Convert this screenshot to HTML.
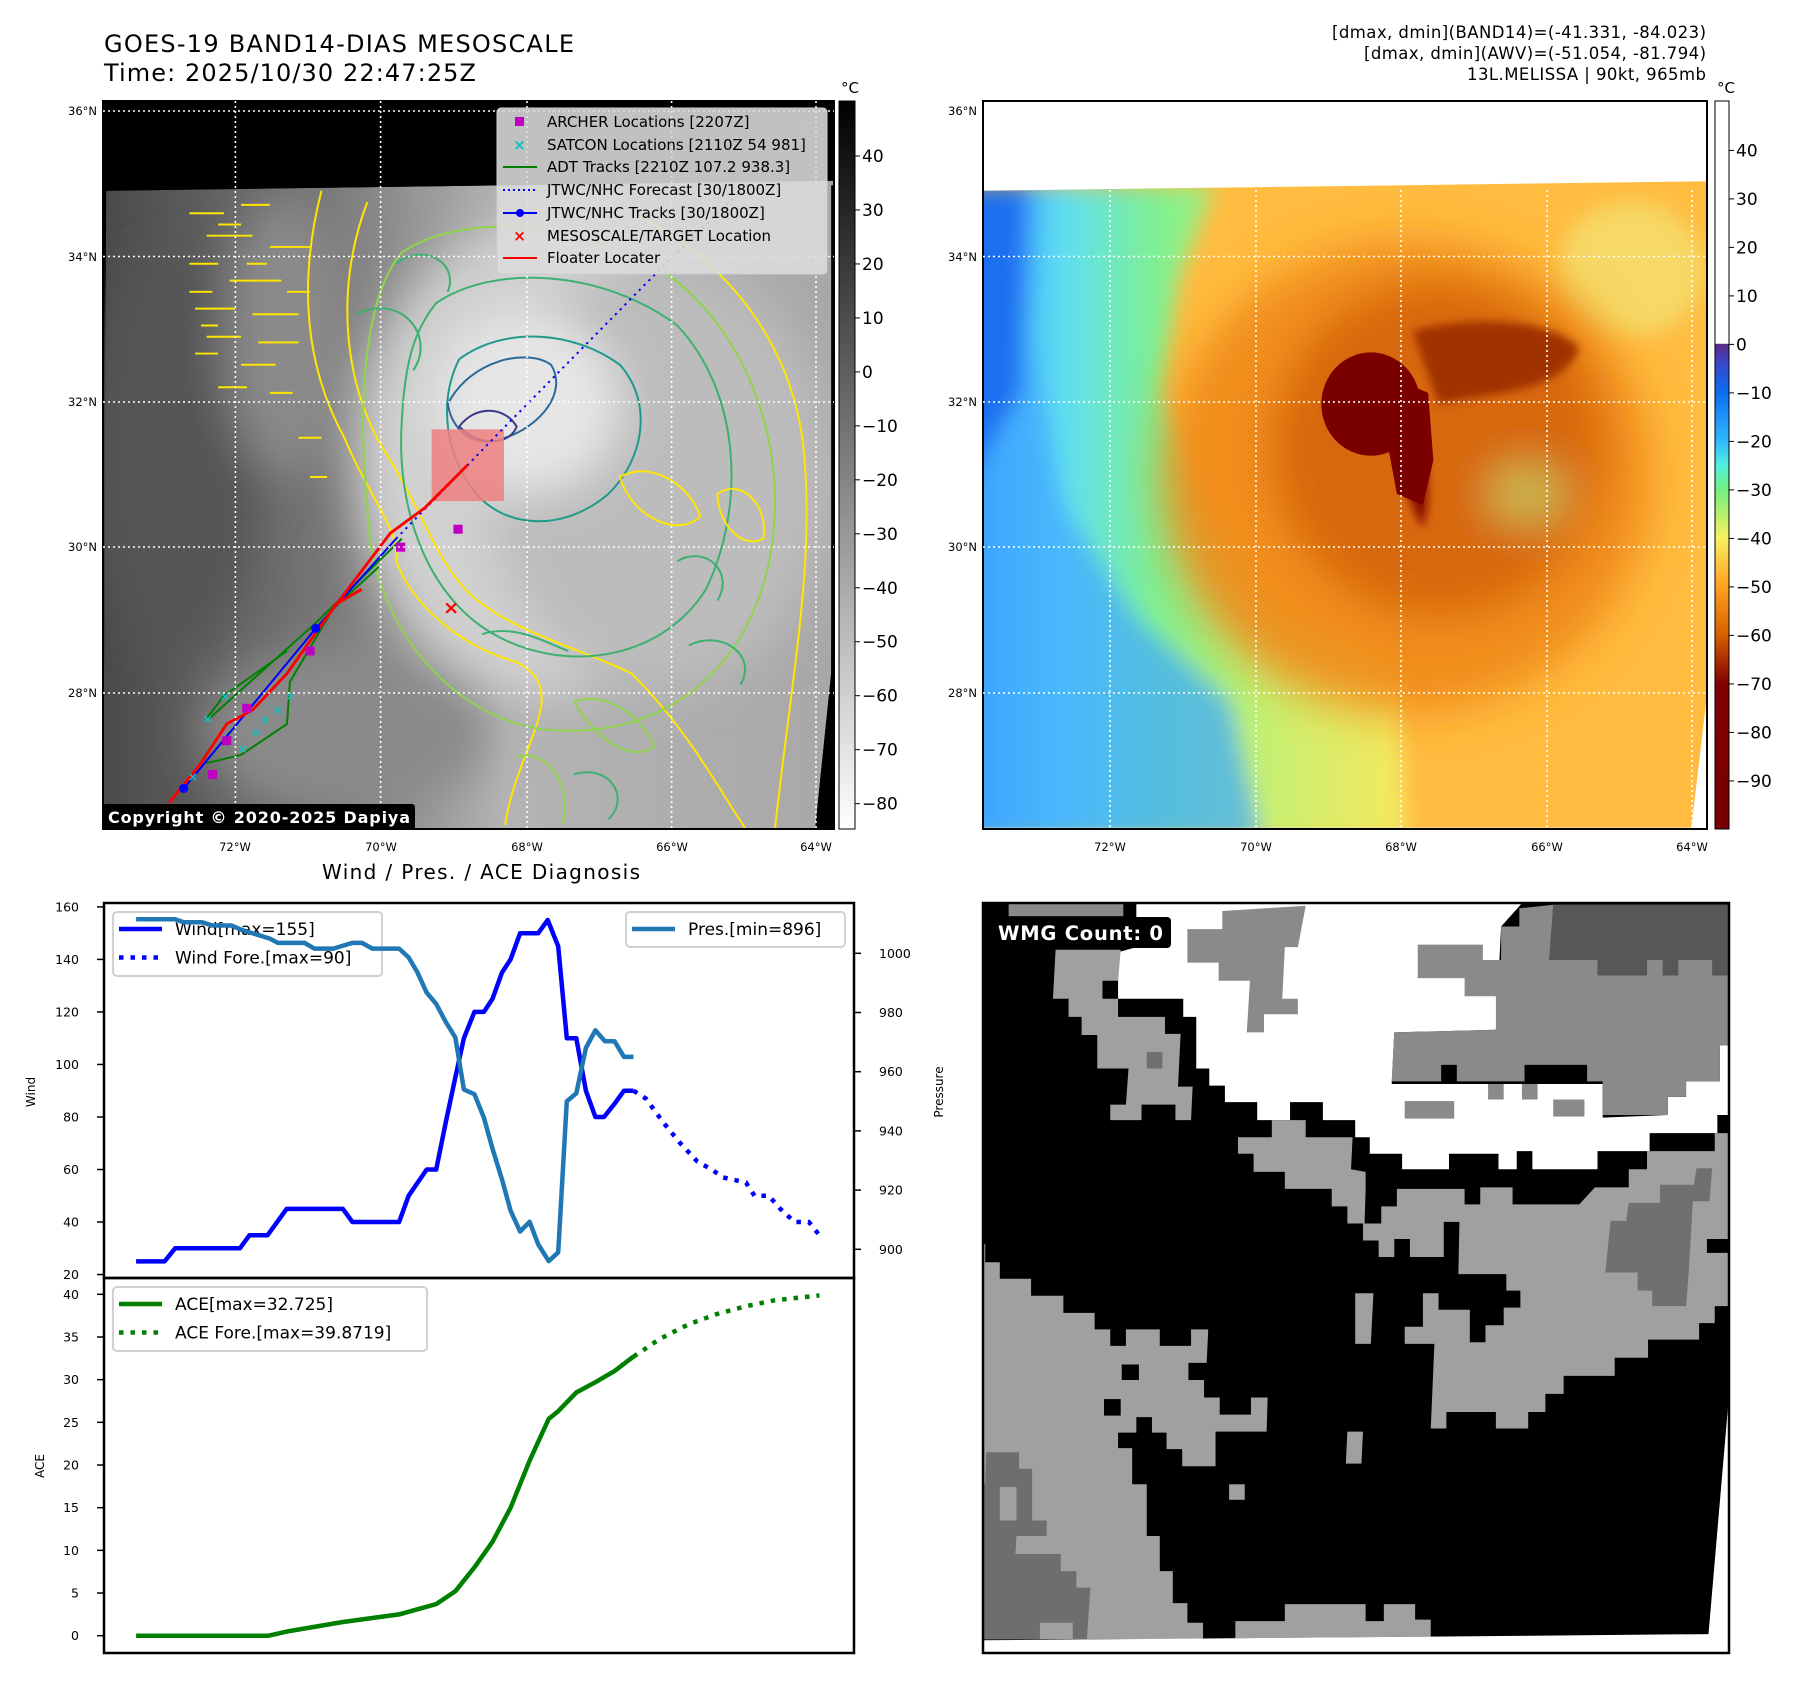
<!DOCTYPE html>
<html><head><meta charset="utf-8"><title>GOES-19 BAND14 Mesoscale</title>
<style>
html,body{margin:0;padding:0;background:#fff;}
svg{display:block;font-family:"DejaVu Sans","Liberation Sans",sans-serif;}
</style></head>
<body>
<svg id="root" width="1797" height="1690" viewBox="0 0 1797 1690" xmlns="http://www.w3.org/2000/svg">
<defs>
  <filter id="blur20" x="-30%" y="-30%" width="160%" height="160%"><feGaussianBlur stdDeviation="20"/></filter>
  <filter id="blur40" x="-30%" y="-30%" width="160%" height="160%"><feGaussianBlur stdDeviation="40"/></filter>
  <filter id="blur8" x="-30%" y="-30%" width="160%" height="160%"><feGaussianBlur stdDeviation="8"/></filter>
  <clipPath id="clip1"><rect x="103" y="101" width="731" height="728"/></clipPath>
  <clipPath id="clip2"><rect x="983" y="101" width="724" height="728"/></clipPath>
  <clipPath id="clipW"><rect x="983" y="903" width="746" height="750"/></clipPath>
  <linearGradient id="gray1" x1="0" x2="1" y1="0" y2="0">
    <stop offset="0" stop-color="#4a4a4a"/><stop offset="0.3" stop-color="#767676"/><stop offset="0.55" stop-color="#b4b4b4"/><stop offset="1" stop-color="#a8a8a8"/>
  </linearGradient>
  <linearGradient id="cb1" x1="0" x2="0" y1="0" y2="1">
    <stop offset="0" stop-color="#000"/><stop offset="1" stop-color="#fff"/>
  </linearGradient>
  <linearGradient id="cb2" x1="0" x2="0" y1="0" y2="1">
    <stop offset="0" stop-color="#fff"/><stop offset="0.333" stop-color="#fff"/>
    <stop offset="0.334" stop-color="#5a2a86"/><stop offset="0.36" stop-color="#3a48c8"/>
    <stop offset="0.40" stop-color="#0a6ef0"/><stop offset="0.467" stop-color="#30b8ff"/>
    <stop offset="0.50" stop-color="#50f0e0"/><stop offset="0.533" stop-color="#70f080"/>
    <stop offset="0.60" stop-color="#f8f060"/><stop offset="0.667" stop-color="#ffa020"/>
    <stop offset="0.733" stop-color="#d86000"/><stop offset="0.80" stop-color="#800000"/><stop offset="1" stop-color="#780000"/>
  </linearGradient>
  <linearGradient id="cold2" x1="0" x2="1" y1="0" y2="0">
    <stop offset="0" stop-color="#1a78f0"/><stop offset="0.1" stop-color="#40b0ff"/><stop offset="0.25" stop-color="#60e0f0"/>
    <stop offset="0.45" stop-color="#80f090"/><stop offset="0.7" stop-color="#c8f070"/><stop offset="1" stop-color="#f8e860"/>
  </linearGradient>
</defs>

<!-- Titles -->
<text x="104" y="52" font-size="24" textLength="470">GOES-19 BAND14-DIAS MESOSCALE</text>
<text x="104" y="81" font-size="24" textLength="372">Time: 2025/10/30 22:47:25Z</text>
<g font-size="16.5" text-anchor="end">
  <text x="1706" y="38" textLength="374">[dmax, dmin](BAND14)=(-41.331, -84.023)</text>
  <text x="1706" y="59" textLength="342">[dmax, dmin](AWV)=(-51.054, -81.794)</text>
  <text x="1706" y="80" textLength="239">13L.MELISSA | 90kt, 965mb</text>
</g>

<!-- MAP 1 -->
<g clip-path="url(#clip1)">
  <rect x="103" y="101" width="731" height="728" fill="#000"/>
  <g transform="scale(0.574,0.5612)">
    <polygon points="185,340 1452,322 1448,1200 1420,1478 180,1478" fill="url(#gray1)"/>
    <g filter="url(#blur40)">
      <ellipse cx="950" cy="820" rx="330" ry="420" fill="#d0d0d0"/>
      <ellipse cx="1150" cy="850" rx="300" ry="380" fill="#bcbcbc"/>
      <ellipse cx="920" cy="720" rx="160" ry="160" fill="#e6e6e6"/>
      <ellipse cx="600" cy="1300" rx="250" ry="150" fill="#8a8a8a"/>
      <ellipse cx="300" cy="800" rx="150" ry="350" fill="#555"/>
      <ellipse cx="500" cy="600" rx="110" ry="250" fill="#8a8a8a"/>
    </g>
    <polygon points="185,340 1452,322 1452,180 180,180" fill="#000"/>
    <polygon points="1448,330 1455,330 1455,1480 1420,1478 1448,1200" fill="#000"/>
    <g fill="none" stroke-width="3.5" stroke-linejoin="round">
      <path d="M560,340 C520,500 530,650 600,780 C640,880 700,950 690,1000 C720,1080 800,1150 900,1180 C1000,1230 900,1330 880,1470" stroke="#ffe600"/>
      <path d="M640,360 C580,520 600,700 680,820 C740,920 760,1000 820,1060 C900,1130 1000,1150 1100,1200 C1200,1300 1260,1420 1300,1478" stroke="#ffe600"/>
      <path d="M1100,380 C1250,450 1380,600 1400,800 C1420,1000 1380,1200 1350,1478" stroke="#ffe600"/>
      <path d="M700,450 C800,380 1000,390 1150,480 C1300,580 1380,800 1340,1000 C1300,1200 1150,1320 950,1300 C780,1280 640,1100 640,900 C620,700 640,520 700,450Z" stroke="#8fd44a"/>
      <path d="M760,540 C860,470 1050,480 1180,580 C1290,700 1300,900 1230,1050 C1150,1180 980,1200 860,1130 C740,1060 690,900 700,750 C705,650 720,590 760,540Z" stroke="#3cb070"/>
      <path d="M800,640 C880,580 1000,590 1080,650 C1140,720 1120,820 1060,880 C980,950 880,940 830,880 C780,820 760,720 800,640Z" stroke="#1f9a8a"/>
      <path d="M780,720 C820,640 920,620 960,650 C990,700 940,760 880,780 C840,800 790,780 780,720Z" stroke="#2a6a9a"/>
      <path d="M800,760 C830,720 880,725 900,760 C890,790 840,800 800,760Z" stroke="#3a3a8a"/>
      <path d="M1080,850 C1130,820 1200,860 1220,920 C1180,960 1100,920 1080,850Z" stroke="#ffe600"/>
      <path d="M1250,880 C1290,850 1340,900 1330,960 C1290,980 1250,930 1250,880Z" stroke="#ffe600"/>
      <path d="M840,1130 C900,1110 960,1150 990,1160" stroke="#3cb070"/>
      <path d="M1000,1250 C1060,1230 1120,1280 1140,1330 C1100,1360 1040,1320 1000,1250Z" stroke="#8fd44a"/>
      <path d="M900,1350 C950,1330 1000,1400 980,1470" stroke="#8fd44a"/>
      <path d="M620,560 C700,520 760,600 720,660 M690,470 C740,430 800,470 780,520 M1180,1000 C1230,970 1280,1020 1250,1070 M1200,1150 C1260,1120 1320,1170 1290,1220 M1000,1380 C1060,1360 1100,1420 1060,1460" stroke="#3cb070"/>
    </g>
    <g fill="none" stroke="#ffe600" stroke-width="3.5">
      <path d="M330,380 h60 M420,365 h50 M360,420 h80 M470,440 h70 M330,470 h50 M400,500 h90 M340,550 h70 M440,560 h80 M360,600 h60 M450,610 h70 M340,630 h40 M420,650 h60 M330,520 h40 M500,520 h40 M380,690 h50"/>
      <path d="M380,400 h40 M430,470 h35 M350,580 h30 M470,700 h40 M520,780 h40 M540,850 h30"/>
    </g>
    <rect x="752" y="765" width="126" height="128" fill="#f08080" opacity="0.85"/>
    <g fill="none" stroke-width="3.5">
      <path d="M365,1280 L550,1110 L640,1020 L700,960" stroke="#008000"/>
      <path d="M360,1360 L420,1345 L500,1290 L505,1215 L580,1085 L660,1010" stroke="#008000"/>
      <path d="M360,1280 L390,1240 L500,1160" stroke="#008000"/>
      <path d="M320,1405 L550,1120 L690,960" stroke="#0000ff"/>
      <path d="M690,960 L880,760 L1140,490 L1440,190" stroke="#0000ff" stroke-dasharray="4,8"/>
      <path d="M295,1430 L350,1360 L395,1290 L440,1265 L500,1200 L580,1085 L680,950 L740,905 L815,828" stroke="#ff0000" stroke-width="5"/>
      <path d="M580,1080 L630,1050" stroke="#ff0000" stroke-width="5"/>
    </g>
    <circle cx="550" cy="1120" r="8" fill="#0000ff"/><circle cx="320" cy="1405" r="8" fill="#0000ff"/>
    <g fill="#c000c0">
      <rect x="690" y="967" width="16" height="16"/><rect x="790" y="935" width="16" height="16"/><rect x="532" y="1152" width="16" height="16"/>
      <rect x="422" y="1254" width="16" height="16"/><rect x="387" y="1312" width="16" height="16"/><rect x="362" y="1372" width="16" height="16"/>
    </g>
    <g fill="#10c0c0" font-size="22" text-anchor="middle" font-weight="bold">
      <text x="362" y="1288">×</text><text x="392" y="1248">×</text><text x="422" y="1342">×</text><text x="446" y="1312">×</text>
      <text x="484" y="1272">×</text><text x="506" y="1248">×</text><text x="336" y="1392">×</text><text x="462" y="1290">×</text>
    </g>
    <text x="786" y="1094" fill="#ff0000" font-size="34" font-weight="bold" text-anchor="middle">×</text>
  </g>
</g>
<rect x="103" y="101" width="731" height="728" fill="none" stroke="#000" stroke-width="2"/>
<g stroke="#fff" stroke-width="1.6" stroke-dasharray="2,3">
  <line x1="103" x2="834" y1="111" y2="111"/><line x1="103" x2="834" y1="256.5" y2="256.5"/><line x1="103" x2="834" y1="402" y2="402"/><line x1="103" x2="834" y1="547" y2="547"/><line x1="103" x2="834" y1="693" y2="693"/>
  <line y1="101" y2="829" x1="235.4" x2="235.4"/><line y1="101" y2="829" x1="380.6" x2="380.6"/><line y1="101" y2="829" x1="527" x2="527"/><line y1="101" y2="829" x1="671.6" x2="671.6"/><line y1="101" y2="829" x1="816" x2="816"/>
</g>
<g font-size="11.5" text-anchor="end">
  <text x="97" y="115">36°N</text><text x="97" y="261">34°N</text><text x="97" y="406">32°N</text><text x="97" y="551">30°N</text><text x="97" y="697">28°N</text>
</g>
<g font-size="11.5" text-anchor="middle">
  <text x="235" y="851">72°W</text><text x="381" y="851">70°W</text><text x="527" y="851">68°W</text><text x="672" y="851">66°W</text><text x="816" y="851">64°W</text>
</g>
<g>
  <rect x="497" y="108" width="330" height="166" rx="4" fill="#dcdcdc" fill-opacity="0.88" stroke="#cfcfcf"/>
  <g font-size="15">
    <rect x="515" y="117" width="9" height="9" fill="#c000c0"/><text x="547" y="127">ARCHER Locations [2207Z]</text>
    <text x="519.5" y="150" fill="#10c0c0" font-weight="bold" text-anchor="middle">×</text><text x="547" y="150">SATCON Locations [2110Z 54 981]</text>
    <line x1="503" x2="537" y1="167" y2="167" stroke="#008000" stroke-width="2"/><text x="547" y="172">ADT Tracks [2210Z 107.2 938.3]</text>
    <line x1="503" x2="537" y1="190" y2="190" stroke="#0000ff" stroke-width="2" stroke-dasharray="2,3"/><text x="547" y="195">JTWC/NHC Forecast [30/1800Z]</text>
    <line x1="503" x2="537" y1="213" y2="213" stroke="#0000ff" stroke-width="2"/><circle cx="520" cy="213" r="4" fill="#0000ff"/><text x="547" y="218">JTWC/NHC Tracks [30/1800Z]</text>
    <text x="519.5" y="241" fill="#ff0000" font-weight="bold" text-anchor="middle">×</text><text x="547" y="241">MESOSCALE/TARGET Location</text>
    <line x1="503" x2="537" y1="258" y2="258" stroke="#ff0000" stroke-width="2"/><text x="547" y="263">Floater Locater</text>
  </g>
</g>
<g>
  <rect x="103" y="804" width="312" height="26" rx="3" fill="#000"/>
  <text x="108" y="823" font-size="16" font-weight="bold" fill="#fff" textLength="302">Copyright © 2020-2025 Dapiya</text>
</g>
<g>
  <rect x="839" y="101" width="16" height="728" fill="url(#cb1)" stroke="#000" stroke-width="1"/>
  <text x="850" y="93" font-size="15" text-anchor="middle">°C</text>
  <g id="cb1ticks" font-size="17"></g>
</g>

<!-- MAP 2 -->
<g clip-path="url(#clip2)">
  <rect x="983" y="101" width="724" height="728" fill="#fff"/>
  <g transform="translate(980,0) scale(0.5211,0.5612)">
    <clipPath id="dat2"><polygon points="0,340 1395,323 1395,1240 1365,1475 0,1475"/></clipPath>
    <g clip-path="url(#dat2)">
      <rect x="0" y="300" width="1400" height="1200" fill="#ffbc40"/>
      <g filter="url(#blur20)">
        <polygon points="-50,330 450,330 380,500 350,700 430,900 560,1080 800,1180 820,1500 -50,1500" fill="url(#cold2)"/>
        <polygon points="-50,330 120,330 100,600 160,900 300,1100 480,1250 540,1500 -50,1500" fill="#40a8ff" opacity="0.7"/>
        <polygon points="-50,330 90,330 80,700 -50,900" fill="#1a70f0"/>
        <ellipse cx="1250" cy="480" rx="140" ry="120" fill="#f4e070" opacity="0.8"/>
      </g>
      <g filter="url(#blur40)">
        <ellipse cx="820" cy="850" rx="470" ry="420" fill="#f08818" opacity="0.9"/>
        <ellipse cx="880" cy="800" rx="320" ry="300" fill="#d86808"/>
        <ellipse cx="1050" cy="880" rx="80" ry="50" fill="#c0e070" opacity="0.7"/>
      </g>
      <g filter="url(#blur8)">
        <path d="M830,590 C950,560 1100,570 1150,620 C1120,700 980,700 880,720 Z" fill="#a03000"/>
        <path d="M800,700 C860,760 870,880 850,940 C820,900 800,800 780,760Z" fill="#8a1000"/>
      </g>
      <ellipse cx="750" cy="720" rx="95" ry="92" fill="#7a0000"/>
      <path d="M760,660 L860,700 L870,820 L850,900 L800,880 L780,780Z" fill="#7a0000"/>
    </g>
  </g>
</g>
<rect x="983" y="101" width="724" height="728" fill="none" stroke="#000" stroke-width="2"/>
<g stroke="#fff" stroke-width="1.6" stroke-dasharray="2,3">
  <line x1="983" x2="1707" y1="256.5" y2="256.5"/><line x1="983" x2="1707" y1="402" y2="402"/><line x1="983" x2="1707" y1="547" y2="547"/><line x1="983" x2="1707" y1="693" y2="693"/>
  <line y1="190" y2="829" x1="1110" x2="1110"/><line y1="190" y2="829" x1="1256" x2="1256"/><line y1="190" y2="829" x1="1401" x2="1401"/><line y1="190" y2="829" x1="1547" x2="1547"/><line y1="190" y2="829" x1="1692" x2="1692"/>
</g>
<g font-size="11.5" text-anchor="end">
  <text x="977" y="115">36°N</text><text x="977" y="261">34°N</text><text x="977" y="406">32°N</text><text x="977" y="551">30°N</text><text x="977" y="697">28°N</text>
</g>
<g font-size="11.5" text-anchor="middle">
  <text x="1110" y="851">72°W</text><text x="1256" y="851">70°W</text><text x="1401" y="851">68°W</text><text x="1547" y="851">66°W</text><text x="1692" y="851">64°W</text>
</g>
<g>
  <rect x="1715" y="101" width="14" height="728" fill="url(#cb2)" stroke="#000" stroke-width="1"/>
  <text x="1726" y="93" font-size="15" text-anchor="middle">°C</text>
  <g id="cb2ticks" font-size="17"></g>
</g>

<!-- CHART -->
<text x="481" y="879" font-size="20" text-anchor="middle" textLength="318">Wind / Pres. / ACE Diagnosis</text>
<g id="chart"></g>

<!-- WMG -->
<g clip-path="url(#clipW)">
  <rect x="983" y="903" width="746" height="750" fill="#000"/>
  <g transform="translate(980,880) scale(0.5211,0.5165)">
    <polygon fill="#fff" points="265,140 300,130 300,45 1040,45 1000,90 990,290 795,295 790,395 1195,395 1195,460 1320,455 1320,420 1355,420 1355,390 1420,390 1420,320 1438,320 1438,455 1415,455 1415,490 1285,490 1285,525 1185,525 1185,560 1060,560 1060,525 1030,525 1030,560 995,560 995,530 900,530 900,560 810,560 810,530 748,530 748,498 720,498 720,465 658,465 658,430 595,430 595,465 532,465 532,430 470,430 470,398 440,398 440,365 415,365 415,265 390,265 390,230 265,230 265,195"/>
    <rect x="55" y="45" width="220" height="25" fill="#8a8a8a"/>
    <polygon fill="#8a8a8a" points="465,60 625,50 610,130 585,130 580,230 610,230 610,260 545,260 545,295 512,295 518,195 458,195 458,160 398,160 398,95 465,95"/>
    <polygon fill="#8a8a8a" points="840,125 965,125 965,155 1000,155 1000,90 1035,90 1035,55 1100,48 1438,48 1438,320 1420,320 1420,390 1355,390 1355,420 1320,420 1320,455 1195,455 1195,390 1165,390 1165,358 1045,358 1045,390 915,390 915,358 885,358 885,390 790,390 795,295 990,290 990,225 930,225 930,190 840,190"/>
    <polygon fill="#575757" points="1100,48 1438,48 1438,185 1405,185 1405,155 1340,155 1340,185 1310,185 1310,155 1280,155 1280,185 1185,185 1185,155 1092,155"/>
    <g fill="#8a8a8a"><rect x="815" y="428" width="95" height="34"/><rect x="1100" y="425" width="60" height="33"/><rect x="975" y="395" width="30" height="30"/><rect x="1040" y="395" width="30" height="30"/></g>
    <polygon fill="#a0a0a0" points="145,135 270,135 265,195 235,195 235,230 265,230 265,265 355,265 355,298 385,298 380,400 408,400 405,465 375,465 375,435 310,435 310,465 250,465 250,435 280,435 285,365 225,365 225,300 195,300 195,265 170,265 170,230 140,230"/>
    <rect x="320" y="333" width="30" height="32" fill="#707070"/>
    <polygon fill="#a0a0a0" points="495,498 560,498 560,465 625,465 625,498 715,498 712,560 740,565 740,600 738,665 705,665 705,632 675,632 675,598 585,598 585,565 525,565 525,530 495,530"/>
    <polygon fill="#a0a0a0" points="770,632 800,632 800,598 930,598 930,628 960,628 960,595 1022,595 1022,628 1150,628 1180,595 1245,595 1245,560 1280,560 1280,525 1410,525 1410,490 1438,490 1438,695 1395,695 1395,722 1438,722 1438,825 1410,825 1410,858 1380,858 1380,890 1282,890 1282,925 1218,925 1218,960 1120,960 1120,995 1085,995 1085,1030 1052,1030 1052,1062 990,1062 990,1030 895,1030 895,1062 865,1062 872,898 815,898 815,865 850,865 850,800 880,800 880,832 940,832 940,895 970,895 970,862 1005,862 1005,828 1037,828 1037,795 1010,795 1010,763 918,763 920,662 890,662 890,730 825,730 825,695 795,695 795,730 765,730 765,698 735,698 735,665 770,665"/>
    <polygon fill="#707070" points="1210,660 1240,660 1245,625 1305,625 1305,590 1370,590 1375,558 1405,558 1400,622 1368,622 1360,760 1355,825 1290,825 1290,795 1262,795 1262,760 1200,760"/>
    <g fill="#a0a0a0"><polygon points="720,800 755,800 750,898 720,898"/><polygon points="705,1068 735,1068 732,1130 702,1130"/><rect x="478" y="1170" width="30" height="30"/></g>
    <polygon fill="#a0a0a0" points="0,705 10,705 10,740 38,740 38,772 98,772 98,805 160,805 160,838 220,838 220,870 250,870 250,902 280,902 280,870 345,870 345,902 405,902 405,870 438,870 435,935 400,935 400,968 430,968 430,1002 460,1002 460,1035 520,1035 520,1002 552,1002 550,1068 452,1068 452,1135 388,1135 388,1102 358,1102 358,1070 330,1070 330,1040 300,1040 300,1070 265,1070 265,1100 292,1100 292,1170 320,1170 320,1270 345,1270 345,1338 370,1338 370,1400 398,1400 398,1438 428,1438 428,1470 0,1470"/>
    <g fill="#000"><rect x="272" y="938" width="33" height="30"/><rect x="238" y="1005" width="32" height="32"/></g>
    <polygon fill="#6e6e6e" points="0,1170 10,1170 12,1108 75,1108 75,1140 100,1140 100,1240 128,1240 128,1270 70,1270 68,1305 155,1305 155,1338 185,1338 185,1370 212,1370 205,1470 178,1470 178,1438 115,1438 115,1470 0,1470"/>
    <rect x="38" y="1175" width="32" height="65" fill="#a0a0a0"/>
    <polygon fill="#a0a0a0" points="490,1435 585,1435 585,1402 740,1402 740,1435 775,1435 775,1402 835,1402 835,1432 865,1432 865,1465 490,1468"/>
    <polygon fill="#fff" points="0,1472 490,1468 865,1465 1398,1460 1438,990 1440,1500 0,1500"/>
  </g>
</g>
<rect x="983" y="903" width="746" height="750" fill="none" stroke="#000" stroke-width="2.5"/>
<g>
  <rect x="992" y="917" width="179" height="31" rx="4" fill="#000"/>
  <text x="998" y="940" font-size="19.5" font-weight="bold" fill="#fff" textLength="165">WMG Count: 0</text>
</g>

<script>
// ---- chart data ----
var windT = [0,3,4.1,10.9,11.9,13.8,15.8,21.7,22.7,27.6,28.6,30.5,31.5,32.5,33.5,34.4,35.5,36.5,37.4,38.4,39.3,40.3,42.2,43.2,44.3,45.2,46.2,47.2,48.2,49.1,50.2,51.2,52.2];
var windV = [25,25,30,30,35,35,45,45,40,40,50,60,60,78,95,110,120,120,125,135,140,150,150,155,145,110,110,90,80,80,85,90,90];
var windFT = [52.2,53.5,55.3,57.1,58.9,60.4,61.6,64,64.9,66.4,67.6,69.1,70.6,71.7];
var windFV = [90,87,78,70,63,60,57,55,50,50,45,40,40,35];
var presT = [0,4.1,5,6.9,8,10,11,14,14.9,17.7,18.7,20.7,22.7,23.7,24.8,27.6,28.6,29.5,30.5,31.5,32.5,33.5,34.4,35.5,36.5,37.4,38.4,39.3,40.3,41.3,42.2,43.3,44.3,45.2,46.2,47.2,48.2,49.2,50.2,51.2,52.2];
var presV = [1011.5,1011.5,1010.5,1010.5,1009.4,1009.4,1008,1005,1003.5,1003.5,1001.6,1001.6,1003.5,1003.5,1001.6,1001.6,998.6,993.7,986.7,982.9,976.8,971.6,954,952.4,944.5,934,923.6,913,906,909.3,901.7,896,899,950,952.7,968,974,970.3,970.3,965,965];
var aceT = [0,13.9,15.9,21.7,27.6,31.5,33.5,35.5,37.4,39.3,41.3,43.3,44.3,46.2,48.2,50.2,52.2];
var aceV = [0,0,0.5,1.6,2.5,3.7,5.2,8,11,15,20.5,25.4,26.3,28.5,29.7,31,32.7];
var aceFT = [52.2,55,58,61,64,67,71.7];
var aceFV = [32.7,34.8,36.5,37.7,38.6,39.3,39.87];
var windTicks = [20,40,60,80,100,120,140,160];
var presTicks = [900,920,940,960,980,1000];
var aceTicks = [0,5,10,15,20,25,30,35,40];
var cb1Ticks = [40,30,20,10,0,-10,-20,-30,-40,-50,-60,-70,-80];
var cb2Ticks = [40,30,20,10,0,-10,-20,-30,-40,-50,-60,-70,-80,-90];

var NS = "http://www.w3.org/2000/svg";
function xT(t){ return 136.05 + 9.53 * t; }
function yW(v){ return 906.9 + (160 - v) * 2.626; }
function yP(p){ return 953.3 + (1000 - p) * 2.96; }
function yA(a){ return 1635.7 - a * 8.535; }
function yCb1(v){ return 156 + (40 - v) * 5.397; }
function yCb2(v){ return 150.4 + (40 - v) * 4.85; }
function mk(tag, attrs, parent){
  var e = document.createElementNS(NS, tag);
  for (var k in attrs) e.setAttribute(k, attrs[k]);
  parent.appendChild(e);
  return e;
}
function fmt(v){ return v < 0 ? "\u2212" + Math.abs(v) : String(v); }
function pts(ts, vs, fy){ var s = []; for (var i = 0; i < ts.length; i++) s.push(xT(ts[i]).toFixed(1) + "," + fy(vs[i]).toFixed(1)); return s.join(" "); }

var chart = document.getElementById("chart");

var cbg1 = document.getElementById("cb1ticks");
cb1Ticks.forEach(function(v){
  var y = yCb1(v);
  var tk = mk("line", {x1:855, x2:860, y1:y, y2:y, stroke:"#000", "stroke-width":1}, cbg1);
  
  
  var tx = mk("text", {x:862, y:y + 6}, cbg1);
  
  
  tx.textContent = fmt(v);
});
var cbg2 = document.getElementById("cb2ticks");
cb2Ticks.forEach(function(v){
  var y = yCb2(v);
  var tk = mk("line", {x1:1729, x2:1734, y1:y, y2:y, stroke:"#000", "stroke-width":1}, cbg2);
  
  
  var tx = mk("text", {x:1736, y:y + 6}, cbg2);
  
  
  tx.textContent = fmt(v);
});

var f1 = mk("rect", {x:104, y:903, width:750, height:375, fill:"none", stroke:"#000", "stroke-width":2.5}, chart);


var f2 = mk("rect", {x:104, y:1278, width:750, height:375, fill:"none", stroke:"#000", "stroke-width":2.5}, chart);



windTicks.forEach(function(v){
  var y = yW(v);
  var l = mk("line", {x1:97, x2:104, y1:y, y2:y, stroke:"#000", "stroke-width":1.5}, chart);
  
  
  var t = mk("text", {x:79, y:y + 4.5, "font-size":12.5, "text-anchor":"end"}, chart);
  
  
  t.textContent = v;
});
presTicks.forEach(function(v){
  var y = yP(v);
  var l = mk("line", {x1:854, x2:861, y1:y, y2:y, stroke:"#000", "stroke-width":1.5}, chart);
  
  
  var t = mk("text", {x:879, y:y + 4.5, "font-size":12.5}, chart);
  
  
  t.textContent = v;
});
aceTicks.forEach(function(v){
  var y = yA(v);
  var l = mk("line", {x1:97, x2:104, y1:y, y2:y, stroke:"#000", "stroke-width":1.5}, chart);
  
  
  var t = mk("text", {x:79, y:y + 4.5, "font-size":12.5, "text-anchor":"end"}, chart);
  
  
  t.textContent = v;
});
var yl1 = mk("text", {x:0, y:0, "font-size":12, "text-anchor":"middle", transform:"translate(35,1092) rotate(-90)"}, chart);


yl1.textContent = "Wind";
var yl2 = mk("text", {x:0, y:0, "font-size":12, "text-anchor":"middle", transform:"translate(943,1092) rotate(-90)"}, chart);


yl2.textContent = "Pressure";
var yl3 = mk("text", {x:0, y:0, "font-size":12, "text-anchor":"middle", transform:"translate(44,1466) rotate(-90)"}, chart);


yl3.textContent = "ACE";

var lw = mk("polyline", {points:pts(windT, windV, yW), fill:"none", stroke:"#0000ff", "stroke-width":4.5, "stroke-linejoin":"round"}, chart);


var lwf = mk("polyline", {points:pts(windFT, windFV, yW), fill:"none", stroke:"#0000ff", "stroke-width":4.5, "stroke-dasharray":"4.5,7"}, chart);


var lp = mk("polyline", {points:pts(presT, presV, yP), fill:"none", stroke:"#1f77b4", "stroke-width":4.5, "stroke-linejoin":"round"}, chart);


var la = mk("polyline", {points:pts(aceT, aceV, yA), fill:"none", stroke:"#008000", "stroke-width":4.5, "stroke-linejoin":"round"}, chart);


var laf = mk("polyline", {points:pts(aceFT, aceFV, yA), fill:"none", stroke:"#008000", "stroke-width":4.5, "stroke-dasharray":"4.5,7"}, chart);



function legend(name, x, y, w, h, items){
  var g = mk("g", {}, chart);
  
  
  mk("rect", {x:x, y:y, width:w, height:h, rx:4, fill:"#fff", "fill-opacity":0.8, stroke:"#d0d0d0", "stroke-width":2}, g);
  items.forEach(function(it, i){
    var cy = y + 17 + i * 28.5;
    var l = mk("line", {x1:x + 6, x2:x + 49, y1:cy, y2:cy, stroke:it.c, "stroke-width":4.5}, g);
    if (it.d) l.setAttribute("stroke-dasharray", "4.5,7");
    var t = mk("text", {x:x + 62, y:cy + 6, "font-size":17}, g);
    t.textContent = it.t;
  });
}
legend("wind-legend", 113, 912, 269, 64, [{c:"#0000ff", t:"Wind[max=155]"}, {c:"#0000ff", t:"Wind Fore.[max=90]", d:true}]);
legend("pressure-legend", 626, 912, 219, 35, [{c:"#1f77b4", t:"Pres.[min=896]"}]);
legend("ace-legend", 113, 1287, 314, 64, [{c:"#008000", t:"ACE[max=32.725]"}, {c:"#008000", t:"ACE Fore.[max=39.8719]", d:true}]);
chart.appendChild(lp);
</script>
</svg>
</body></html>
